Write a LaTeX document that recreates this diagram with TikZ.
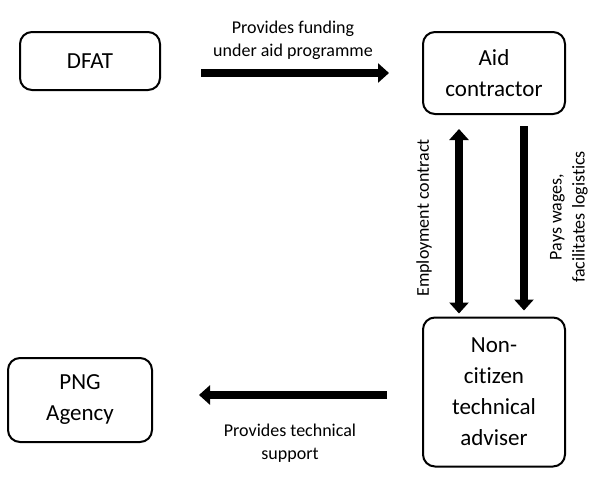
\documentclass[tikz,border=0pt]{standalone}
\usepackage{fontspec}
\setmainfont[Ligatures=NoCommon]{Carlito}
\usetikzlibrary{arrows.meta,positioning,calc}
\begin{document}
\begin{tikzpicture}[x=1pt,y=-1pt,
  box/.style={draw,line width=2pt,rounded corners=12pt,align=center,inner sep=0pt,
    font=\fontsize{23}{31}\selectfont},
  lbl/.style={align=center,font=\fontsize{18}{23}\selectfont,inner sep=0pt},
  fat/.style={line width=8pt,-{Triangle[width=19pt,length=11pt]}},
  fatboth/.style={line width=8pt,{Triangle[width=19pt,length=11pt]}-{Triangle[width=19pt,length=11pt]}}]
\useasboundingbox (0,0) rectangle (600,479);
\node[box,minimum width=140pt,minimum height=58pt] (dfat) at (90,61) {DFAT};
\node[box,minimum width=142pt,minimum height=82pt] (aid) at (494,73) {Aid\\contractor};
\node[box,minimum width=142pt,minimum height=149pt] (non) at (494,392) {Non-\\citizen\\technical\\adviser};
\node[box,minimum width=144pt,minimum height=84pt] (png) at (80,400) {PNG\\Agency};
% arrows
\draw[fat,shorten <=40pt,shorten >=33pt] (dfat.east |- aid.west) -- (aid.west);
\draw[fatboth,shorten <=14pt,shorten >=3pt] ([xshift=-35pt]aid.south) -- ([xshift=-35pt]non.north);
\draw[fat,shorten <=11pt,shorten >=6pt] ([xshift=30pt]aid.south) -- ([xshift=30pt]non.north);
\draw[fat,shorten <=35pt,shorten >=46pt] ([yshift=5pt]non.west |- png.east) -- ([yshift=5pt]png.east);
% labels
\node[lbl] (l1) at (293,40) {Provides funding\\under aid programme};
\node[lbl,rotate=90] (l2) at (424,218) {Employment contract};
\node[lbl,rotate=90] (l3) at (569,217) {Pays wages,\\facilitates logistics};
\node[lbl] (l4) at (290,443) {Provides technical\\support};
\end{tikzpicture}
\end{document}
